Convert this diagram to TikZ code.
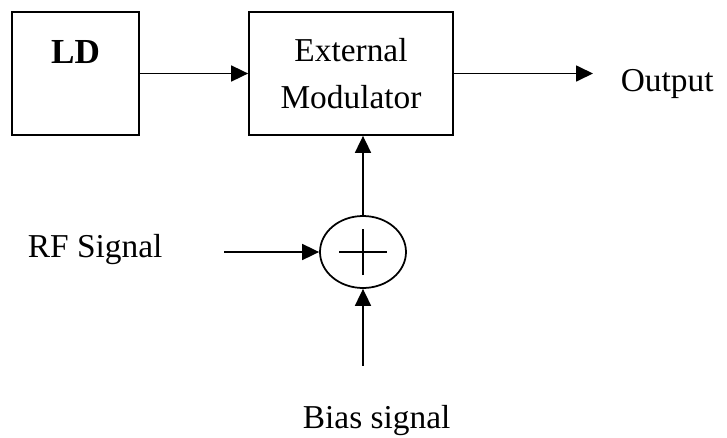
\documentclass[tikz,border=0pt]{standalone}
\usepackage{fontspec}
\setmainfont{Liberation Serif}
\usetikzlibrary{arrows.meta,shapes.geometric}

\begin{document}
\begin{tikzpicture}[>={Triangle[length=0.34cm,width=0.32cm]}, line width=1pt,
    blk/.style={draw, minimum width=#1, minimum height=2.46cm, align=center, font=\fontsize{19}{27}\selectfont},
    txt/.style={inner sep=0pt, font=\fontsize{19}{23}\selectfont}]
    \useasboundingbox (0,0) rectangle (14.54,-8.74);
    \node[blk=2.54cm, label={[anchor=center, yshift=-0.81cm, font=\fontsize{20}{24}\selectfont\bfseries]north:LD}] (ld) at (1.51,-1.47) {};
    \node[blk=4.08cm] (mod) at (7.02,-1.47) {External\\Modulator};
    \node[draw, ellipse, minimum width=1.72cm, minimum height=1.44cm] (sum) at (7.26,-5.04) {};
    \draw (sum.center) +(-0.48,0) -- +(0.48,0) (sum.center) +(0,-0.46) -- +(0,0.46);
    \node[txt, anchor=base west] (out) at (12.4,-1.82) {Output};
    \node[txt, anchor=base west] (rf) at (0.54,-5.14) {RF Signal};
    \node[txt, anchor=base west] (bias) at (6.04,-8.56) {Bias signal};
    \draw[->] (ld) -- (mod);
    \draw[->, shorten >=0.54cm] (mod.east) -- (mod.east -| out.west);
    \draw[->] (sum.north) -- (sum.north |- mod.south);
    \draw[->, shorten <=1.22cm] (rf.east |- sum.west) -- (sum.west);
    \draw[->, shorten <=0.76cm] (sum.south |- bias.north) -- (sum.south);
\end{tikzpicture}
\end{document}
